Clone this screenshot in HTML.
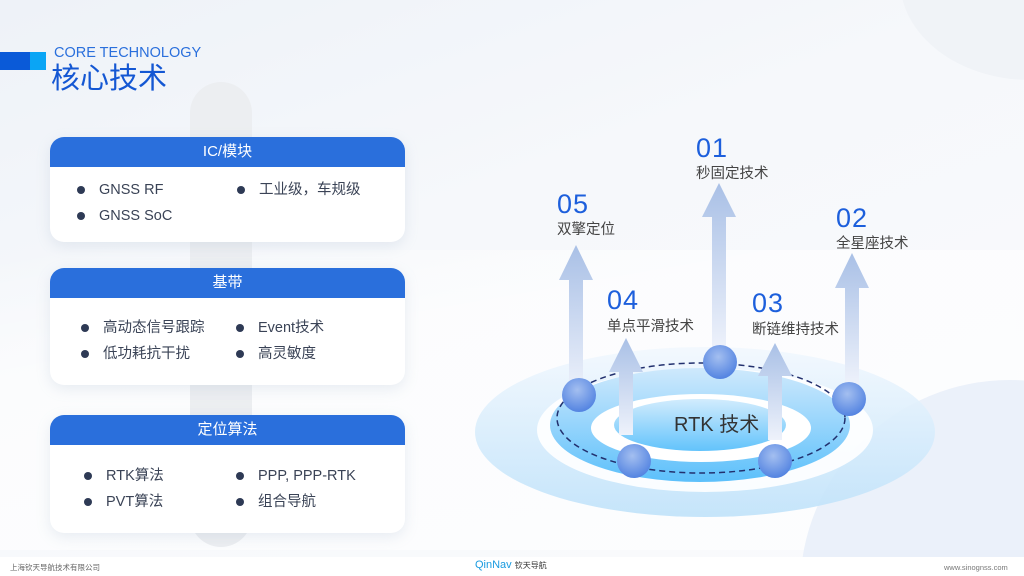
<!DOCTYPE html>
<html><head><meta charset="utf-8"><style>
*{margin:0;padding:0;box-sizing:border-box}
html{overflow:hidden;width:1024px;height:576px}
body{width:1024px;height:576px;overflow:hidden;font-family:"Liberation Sans","Noto Sans CJK SC",sans-serif;background:linear-gradient(160deg,#eef2f8 0%,#f6f8fb 40%,#fafbfd 100%);position:relative}
.abs{position:absolute}
.card{position:absolute;left:50px;width:355px;background:#fff;border-radius:14px;box-shadow:0 4px 14px rgba(140,160,190,.18);overflow:hidden}
.hd{background:#2a6fdc;color:#fff;text-align:center;font-size:15px;height:30px;line-height:30px;border-radius:12px 12px 0 0}
.it{position:absolute;font-size:14.5px;line-height:18px;height:18px;color:#3a4356;white-space:nowrap}
.it:before{content:"";position:absolute;left:-22px;top:5px;width:8px;height:8px;border-radius:50%;background:#2e3a55}
.num{position:absolute;color:#1d5fdc;font-size:27px;line-height:30px;font-weight:300;letter-spacing:1px}
.lb{position:absolute;color:#444;font-size:14.5px;line-height:18px}
</style></head><body>
<div class="abs" style="left:900px;top:-120px;width:260px;height:200px;border-radius:50%;background:#f0f3f7"></div>
<div class="abs" style="left:0;top:250px;width:1024px;height:300px;background:linear-gradient(170deg,rgba(255,255,255,0) 0%,rgba(255,255,255,.6) 30%)"></div>
<div class="abs" style="left:190px;top:82px;width:62px;height:465px;border-radius:31px;background:#eceef1"></div>
<div class="abs" style="left:0;top:52px;width:30px;height:18px;background:#0a5ad8"></div>
<div class="abs" style="left:30px;top:52px;width:16px;height:18px;background:#0aa5f5"></div>
<div class="abs" style="left:54px;top:45px;font-size:14.5px;line-height:16px;color:#2a6fdc">CORE TECHNOLOGY</div>
<div class="abs" style="left:51px;top:62px;font-size:29px;line-height:34px;color:#1457d3">核心技术</div>

<div class="card" style="top:137px;height:105px"><div class="hd">IC/模块</div>
<div class="it" style="left:49px;top:44px">GNSS RF</div><div class="it" style="left:209px;top:44px">工业级，车规级</div>
<div class="it" style="left:49px;top:70px">GNSS SoC</div></div>
<div class="card" style="top:268px;height:117px"><div class="hd">基带</div>
<div class="it" style="left:53px;top:51px">高动态信号跟踪</div><div class="it" style="left:208px;top:51px">Event技术</div>
<div class="it" style="left:53px;top:77px">低功耗抗干扰</div><div class="it" style="left:208px;top:77px">高灵敏度</div></div>
<div class="card" style="top:415px;height:118px"><div class="hd">定位算法</div>
<div class="it" style="left:56px;top:52px">RTK算法</div><div class="it" style="left:208px;top:52px">PPP, PPP-RTK</div>
<div class="it" style="left:56px;top:78px">PVT算法</div><div class="it" style="left:208px;top:78px">组合导航</div></div>

<svg class="abs" style="left:0;top:0" width="1024" height="576">
<defs>
<linearGradient id="ar" x1="0" y1="0" x2="0" y2="1"><stop offset="0" stop-color="#a9c0e6"/><stop offset="1" stop-color="#eef2fb"/></linearGradient>
<linearGradient id="ou" x1="0" y1="0" x2="0" y2="1"><stop offset="0" stop-color="#f2f8fe"/><stop offset="1" stop-color="#bfe2fa"/></linearGradient>
<linearGradient id="bd" x1="0" y1="0" x2="0" y2="1"><stop offset="0" stop-color="#cfe9fc"/><stop offset="1" stop-color="#5cc0fb"/></linearGradient>
<linearGradient id="ct" x1="0" y1="0" x2="0" y2="1"><stop offset="0" stop-color="#d2ecfd"/><stop offset="1" stop-color="#62c3fb"/></linearGradient>
<radialGradient id="sp" cx=".45" cy=".35" r=".7"><stop offset="0" stop-color="#a4bff0"/><stop offset="1" stop-color="#4d7fe0"/></radialGradient>
</defs>
<circle cx="1010" cy="590" r="210" fill="#e6eef9" opacity=".8"/>
<ellipse cx="705" cy="432" rx="230" ry="85" fill="url(#ou)" opacity=".9"/>
<ellipse cx="705" cy="430" rx="168" ry="62" fill="#fff" opacity=".9"/>
<ellipse cx="700" cy="425" rx="150" ry="57" fill="url(#bd)"/>
<ellipse cx="701" cy="428" rx="110" ry="34" fill="#fff"/>
<ellipse cx="700" cy="425" rx="86" ry="26" fill="url(#ct)"/>
<ellipse cx="701" cy="418" rx="144" ry="55" fill="none" stroke="#22306e" stroke-width="1.5" stroke-dasharray="6 4"/>
<g fill="url(#ar)">
<path d="M569 395V280H559L576 245L593 280H583V395Z"/>
<path d="M712 350V217H702L719 183L736 217H726V350Z"/>
<path d="M845 385V288H835L852 253L869 288H859V385Z"/>
<path d="M619 435V372H609L626 338L643 372H633V435Z"/>
<path d="M768 440V376H758L775 343L792 376H782V440Z"/>
</g>
<g fill="url(#sp)">
<circle cx="579" cy="395" r="17"/><circle cx="720" cy="362" r="17"/><circle cx="849" cy="399" r="17"/><circle cx="634" cy="461" r="17"/><circle cx="775" cy="461" r="17"/>
</g>
<text x="674" y="431" font-size="20" fill="#333" font-family="Liberation Sans,Noto Sans CJK SC,sans-serif">RTK 技术</text>
<rect x="0" y="557" width="1024" height="19" fill="#fff"/>
</svg>
<div class="num" style="left:696px;top:133px">01</div><div class="lb" style="left:696px;top:165px">秒固定技术</div>
<div class="num" style="left:557px;top:189px">05</div><div class="lb" style="left:557px;top:221px">双擎定位</div>
<div class="num" style="left:836px;top:203px">02</div><div class="lb" style="left:836px;top:235px">全星座技术</div>
<div class="num" style="left:607px;top:285px">04</div><div class="lb" style="left:607px;top:318px">单点平滑技术</div>
<div class="num" style="left:752px;top:288px">03</div><div class="lb" style="left:752px;top:321px">断链维持技术</div>
<div class="abs" style="left:10px;top:563px;font-size:7.5px;line-height:9px;color:#666">上海钦天导航技术有限公司</div>
<div class="abs" style="left:475px;top:559px;font-size:11px;line-height:13px;color:#1a9be0">QinNav <span style="font-size:8px;color:#333">钦天导航</span></div>
<div class="abs" style="left:944px;top:563px;font-size:7.5px;line-height:9px;color:#777">www.sinognss.com</div>
</body></html>
